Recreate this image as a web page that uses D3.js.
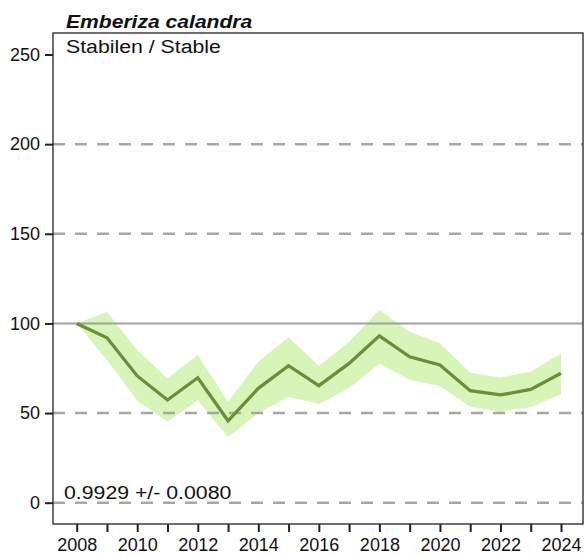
<!DOCTYPE html>
<html><head><meta charset="utf-8">
<script src="https://cdn.jsdelivr.net/npm/d3@7"></script>
<style>body{margin:0;background:#fff;} svg{display:block;font-family:Arial,"Liberation Sans",sans-serif;}</style>
</head><body><svg id="c" width="585" height="556"></svg>
<script>
const years = [2008,2009,2010,2011,2012,2013,2014,2015,2016,2017,2018,2019,2020,2021,2022,2023,2024];
const index = [100,92,70.7,57.3,69.7,45.7,63.8,76.4,65.3,77.7,93.1,81.4,76.8,62.5,60.1,63.2,72.2];
const upper = [100,106.5,85,69.4,82.4,56.3,78.7,92.3,76.2,89.8,107.5,95.4,88.9,72.5,69.9,73,83.3];
const lower = [100,79.6,57,45.2,57,36.5,50,59,55,63.8,77.7,68.4,65,53.5,50.8,53.2,60.5];
const yTicks = [0,50,100,150,200,250];
const dashedLines = [0,50,150,200];
const xLabelYears = [2008,2010,2012,2014,2016,2018,2020,2022,2024];
const title = "Emberiza calandra";
const subtitle = "Stabilen / Stable";
const trendText = "0.9929 +/- 0.0080";

const svg = d3.select("#c");
const L=53, R=583, T=33, B=524;
const x = d3.scaleLinear().domain([2008,2024]).range([76.7,561]);
const y = d3.scaleLinear().domain([0,250]).range([502.7,54.5]);

// band
svg.append("path").datum(years.map((d,i)=>({x:d,lo:lower[i],hi:upper[i]})))
  .attr("d", d3.area().x(d=>x(d.x)).y0(d=>y(d.lo)).y1(d=>y(d.hi)))
  .attr("fill","#d8f5b9").attr("stroke","none");

// grid lines
svg.selectAll(".dash").data(dashedLines).enter().append("line")
  .attr("x1",L).attr("x2",R).attr("y1",d=>y(d)).attr("y2",d=>y(d))
  .attr("stroke","#a6a6a6").attr("stroke-width",2.5).attr("stroke-dasharray","12,10");
svg.append("line").attr("x1",L).attr("x2",R).attr("y1",y(100)).attr("y2",y(100))
  .attr("stroke","#a0a0a0").attr("stroke-width",2);

// line
svg.append("path").datum(years.map((d,i)=>[d,index[i]]))
  .attr("d", d3.line().x(d=>x(d[0])).y(d=>y(d[1])))
  .attr("fill","none").attr("stroke","#6b8e3a").attr("stroke-width",3.3).attr("stroke-linejoin","miter");

// box
svg.append("rect").attr("x",L).attr("y",T).attr("width",R-L).attr("height",B-T)
  .attr("fill","none").attr("stroke","#222").attr("stroke-width",1.3);

// y axis
const ya = svg.append("g").attr("transform",`translate(${L},0)`)
  .call(d3.axisLeft(y).tickValues(yTicks).tickSize(8).tickPadding(5).tickFormat(d3.format("d")));
ya.select(".domain").remove();
ya.selectAll("line").attr("stroke","#222").attr("stroke-width",2);
ya.selectAll("text").attr("font-size","18px").attr("fill","#111").attr("font-family","Arial,'Liberation Sans',sans-serif");

// x axis
const xa = svg.append("g").attr("transform",`translate(0,${B})`)
  .call(d3.axisBottom(x).tickValues(years).tickSize(8).tickPadding(6)
    .tickFormat(d=> xLabelYears.includes(d) ? String(d) : ""));
xa.select(".domain").remove();
xa.selectAll("line").attr("stroke","#222").attr("stroke-width",2);
xa.selectAll("text").attr("font-size","18px").attr("fill","#111").attr("font-family","Arial,'Liberation Sans',sans-serif");

function label(tx, px, py, size, sx, bold, italic){
  const t = svg.append("text").attr("transform",`translate(${px},${py}) scale(${sx},1)`)
    .text(tx).attr("font-size",size+"px").attr("fill","#111");
  if(bold) t.attr("font-weight","bold");
  if(italic) t.attr("font-style","italic");
}
label(title, 66, 28, 19, 1.11, true, true);
label(subtitle, 66, 53, 19, 1.12, false, false);
label(trendText, 64, 499, 19, 1.12, false, false);
</script></body></html>
